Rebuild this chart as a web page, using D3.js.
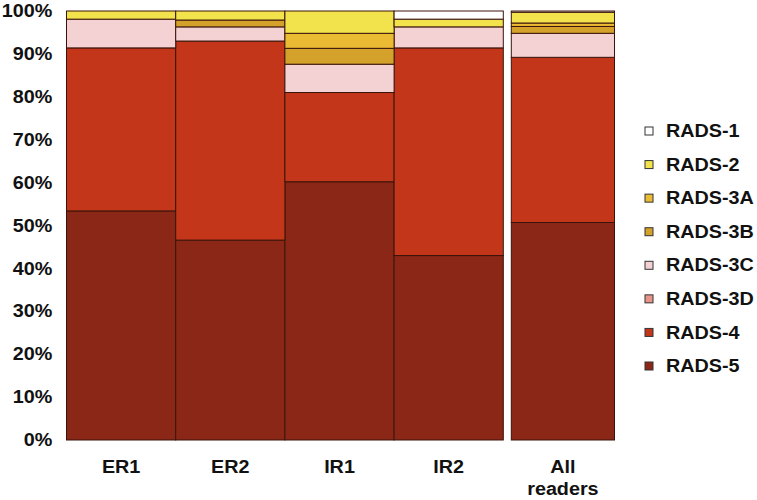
<!DOCTYPE html>
<html><head><meta charset="utf-8">
<script src="https://cdn.jsdelivr.net/npm/d3@7"></script>
<style>body{margin:0;background:#fff}svg{display:block}text{font-family:"Liberation Sans",Arial,sans-serif;font-weight:bold;fill:#111}</style>
</head><body><svg id="c" width="757" height="500"></svg>
<script>
const categories = ["ER1", "ER2", "IR1", "IR2", "All readers"];
const seriesNames = ["RADS-5", "RADS-4", "RADS-3D", "RADS-3C", "RADS-3B", "RADS-3A", "RADS-2", "RADS-1"];
const rads5  = [53.4, 46.6, 60.2, 43.0, 50.7];
const rads4  = [38.0, 46.4, 20.8, 48.4, 38.5];
const rads3D = [0, 0, 0, 0, 0];
const rads3C = [6.7, 3.3, 6.6, 4.9, 5.6];
const rads3B = [0, 1.6, 3.7, 0, 1.6];
const rads3A = [0, 0, 3.5, 0, 0.8];
const rads2  = [1.9, 2.1, 5.2, 1.8, 2.5];
const rads1  = [0, 0, 0, 1.9, 0.3];
const yTicks = [0, 10, 20, 30, 40, 50, 60, 70, 80, 90, 100];
const legendOrder = ["RADS-1", "RADS-2", "RADS-3A", "RADS-3B", "RADS-3C", "RADS-3D", "RADS-4", "RADS-5"];

const seriesValues = [rads5, rads4, rads3D, rads3C, rads3B, rads3A, rads2, rads1];
const colors = {"RADS-1":"#ffffff","RADS-2":"#f2e24c","RADS-3A":"#ecbb34","RADS-3B":"#d4a12b","RADS-3C":"#f4d1d3","RADS-3D":"#e99488","RADS-4":"#c4361a","RADS-5":"#8a2716"};

const FS = 17.5, SX = 1.13;

const rows = categories.map((c, i) => {
  const r = {cat: c};
  seriesNames.forEach((s, j) => r[s] = seriesValues[j][i]);
  return r;
});
const stacked = d3.stack().keys(seriesNames)(rows);

const svg = d3.select("#c");
const x = d3.scaleBand().domain(categories).range([66.5, 612.5]).paddingInner(0).paddingOuter(0);
const y = d3.scaleLinear().domain([0, 100]).range([440, 11]);
const gapShift = c => c === "All readers" ? 8 : 0;
const wAdj = c => c === "All readers" ? x.bandwidth() - 6 : x.bandwidth();

svg.append("g").selectAll("g").data(stacked).join("g")
  .attr("fill", d => colors[d.key])
  .selectAll("rect").data(d => d).join("rect")
  .attr("x", d => x(d.data.cat) + gapShift(d.data.cat))
  .attr("width", d => wAdj(d.data.cat))
  .attr("y", d => y(d[1]))
  .attr("height", d => Math.max(0, y(d[0]) - y(d[1])))
  .attr("stroke", "#3a140a").attr("stroke-width", 1)
  .attr("display", d => (d[1] - d[0]) > 0 ? null : "none");

const yAxis = svg.append("g").attr("transform", "translate(66.5,0)")
  .call(d3.axisLeft(y).tickValues(yTicks).tickFormat(d => d + "%").tickSize(0).tickPadding(12.5));
yAxis.select(".domain").remove();
yAxis.selectAll("text").style("font-size", FS + "px").style("font-family", "'Liberation Sans',Arial,sans-serif")
  .style("font-weight", "bold").attr("fill", "#111").attr("transform", `scale(${SX},1)`);

const xl = svg.append("g");
categories.forEach(c => {
  const cx = x(c) + gapShift(c) + wAdj(c) / 2;
  const parts = c === "All readers" ? ["All", "readers"] : [c];
  parts.forEach((p, k) => {
    xl.append("text").attr("transform", `translate(${cx},${467 + k * 22}) scale(${SX},1)`).attr("dy", "0.35em")
      .attr("text-anchor", "middle").style("font-size", FS + "px").text(p);
  });
});

const legendY = d3.scalePoint().domain(legendOrder).range([131, 366]);
const lg = svg.append("g");
legendOrder.forEach(s => {
  const yy = legendY(s);
  lg.append("rect").attr("x", 645).attr("y", yy - 4).attr("width", 8).attr("height", 8)
    .attr("fill", colors[s]).attr("stroke", "#333").attr("stroke-width", 1);
  lg.append("text").attr("transform", `translate(666,${yy}) scale(${SX},1)`).attr("dy", "0.35em")
    .style("font-size", FS + "px").text(s);
});
</script></body></html>
